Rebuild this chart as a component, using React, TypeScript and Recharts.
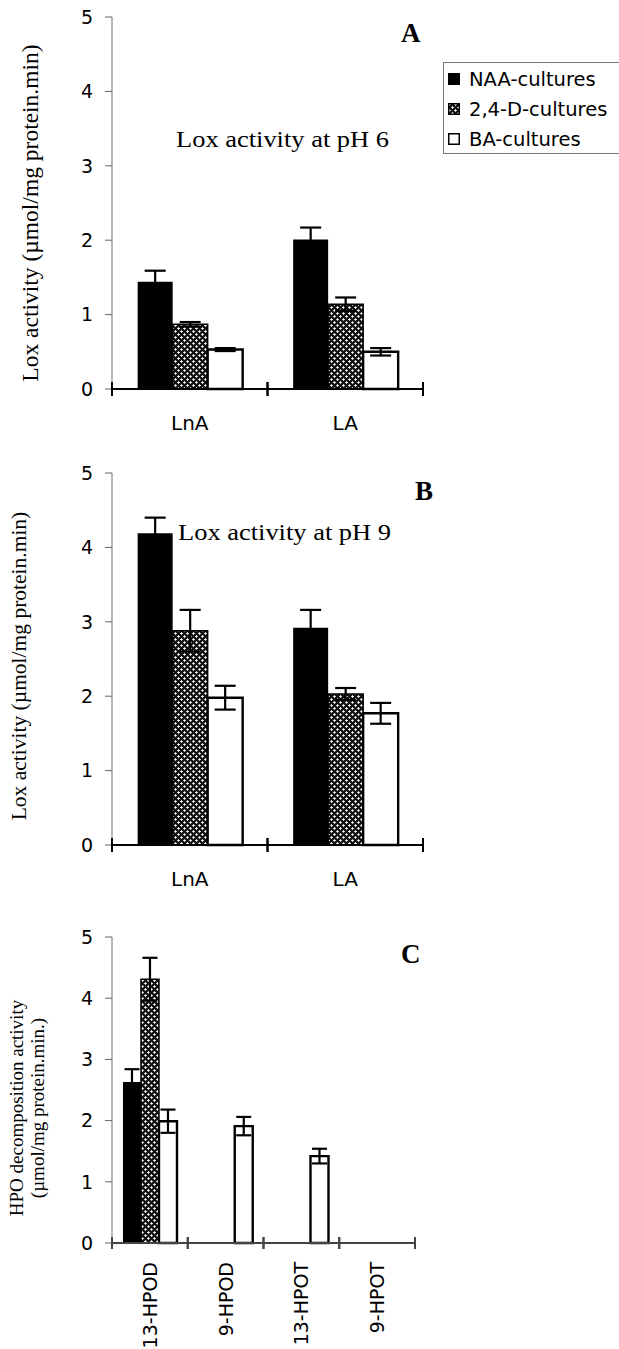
import React from 'react';
import { BarChart, Bar, XAxis, YAxis, ErrorBar } from 'recharts';

// panels A and B: substrates
const loxSubstrates = ['LnA', 'LA'];

// A: pH 6
const naaPh6 = [1.44, 2.01];
const naaPh6Err = [0.15, 0.16];
const d24Ph6 = [0.87, 1.14];
const d24Ph6Err = [0.03, 0.09];
const baPh6 = [0.53, 0.5];
const baPh6Err = [0.02, 0.05];

// B: pH 9
const naaPh9 = [4.19, 2.92];
const naaPh9Err = [0.21, 0.24];
const d24Ph9 = [2.88, 2.03];
const d24Ph9Err = [0.28, 0.08];
const baPh9 = [1.98, 1.77];
const baPh9Err = [0.16, 0.14];

// C: HPO decomposition
const hpoSubstrates = ['13-HPOD', '9-HPOD', '13-HPOT', '9-HPOT'];
const naaHpo = [2.63, null, null, null];
const naaHpoErr = [0.21, null, null, null];
const d24Hpo = [4.31, null, null, null];
const d24HpoErr = [0.35, null, null, null];
const baHpo = [1.99, 1.91, 1.42, null];
const baHpoErr = [0.19, 0.15, 0.12, null];

const yTicks = [0, 1, 2, 3, 4, 5];
const legendLabels = ['NAA-cultures', '2,4-D-cultures', 'BA-cultures'];

const SANS = '"DejaVu Sans", Arial, sans-serif';
const SERIF = '"Liberation Serif", "Times New Roman", serif';

const rows = (
  cats: string[],
  naa: (number | null)[], naaErr: (number | null)[],
  d24: (number | null)[], d24Err: (number | null)[],
  ba: (number | null)[], baErr: (number | null)[]
) =>
  cats.map((name, i) => ({
    name,
    naa: naa[i], naaErr: naaErr[i],
    d24: d24[i], d24Err: d24Err[i],
    ba: ba[i], baErr: baErr[i],
  }));

const dataA = rows(loxSubstrates, naaPh6, naaPh6Err, d24Ph6, d24Ph6Err, baPh6, baPh6Err);
const dataB = rows(loxSubstrates, naaPh9, naaPh9Err, d24Ph9, d24Ph9Err, baPh9, baPh9Err);
const dataC = rows(hpoSubstrates, naaHpo, naaHpoErr, d24Hpo, d24HpoErr, baHpo, baHpoErr);

// category label plus tick marks at the band edges
const GroupTick = (props: any) => {
  const { x, y, payload, width, visibleTicksCount, rotated, tickLen, stroke, labelGap } = props;
  const half = payload && payload.offset ? payload.offset : width / visibleTicksCount / 2;
  const ly = y + labelGap;
  return (
    <g>
      <line x1={x - half} x2={x - half} y1={y - tickLen} y2={y + tickLen} stroke={stroke} strokeWidth={2} />
      <line x1={x + half} x2={x + half} y1={y - tickLen} y2={y + tickLen} stroke={stroke} strokeWidth={2} />
      {rotated ? (
        <text x={x} y={ly} transform={`rotate(-90 ${x} ${ly})`} textAnchor="end" dominantBaseline="central"
          fontFamily={SANS} fontSize={19} fill="#000">{payload.value}</text>
      ) : (
        <text x={x} y={ly} textAnchor="middle" fontFamily={SANS} fontSize={20} fill="#000">{payload.value}</text>
      )}
    </g>
  );
};

type PanelProps = {
  data: any[];
  top: number;
  height: number;
  margin: { top: number; right: number; bottom: number; left: number };
  yWidth: number;
  xHeight: number;
  rotated?: boolean;
  capWidth: number;
  gap: string;
  axisColor: string;
  tickMargin: number;
};

const Panel = ({ data, top, height, margin, yWidth, xHeight, rotated, capWidth, gap, axisColor, tickMargin }: PanelProps) => (
  <div style={{ position: 'absolute', left: 0, top }}>
    <BarChart width={619} height={height} data={data} margin={margin} barCategoryGap={gap} barGap={0}>
      <XAxis
        dataKey="name"
        height={xHeight}
        tickSize={0}
        tickMargin={0}
        tickLine={false}
        axisLine={{ stroke: axisColor, strokeWidth: 2 }}
        interval={0}
        tick={<GroupTick rotated={rotated} tickLen={rotated ? 6 : 7} stroke={axisColor} labelGap={rotated ? 19 : 41} />}
      />
      <YAxis
        width={yWidth}
        domain={[0, 5]}
        ticks={yTicks}
        tickSize={7}
        tickMargin={tickMargin}
        axisLine={{ stroke: '#888', strokeWidth: 1.2 }}
        tickLine={{ stroke: '#666' }}
        tick={{ fill: '#000', fontSize: 19, fontFamily: SANS }}
      />
      <Bar dataKey="naa" fill="#000" isAnimationActive={false}>
        <ErrorBar dataKey="naaErr" width={capWidth} stroke="#000" strokeWidth={2.2} />
      </Bar>
      <Bar dataKey="d24" fill="url(#check)" stroke="#000" strokeWidth={1.5} isAnimationActive={false}>
        <ErrorBar dataKey="d24Err" width={capWidth} stroke="#000" strokeWidth={2.2} />
      </Bar>
      <Bar dataKey="ba" fill="#fff" stroke="#000" strokeWidth={2.4} isAnimationActive={false}>
        <ErrorBar dataKey="baErr" width={capWidth} stroke="#000" strokeWidth={2.2} />
      </Bar>
    </BarChart>
  </div>
);

const abs = (left: number, top: number, extra: React.CSSProperties = {}): React.CSSProperties => ({
  position: 'absolute', left, top, whiteSpace: 'nowrap', color: '#000', ...extra,
});

const VLabel = ({ cx, cy, size, children }: { cx: number; cy: number; size: number; children: React.ReactNode }) => (
  <div style={abs(cx, cy, {
    transform: 'translate(-50%, -50%) rotate(-90deg)', fontFamily: SERIF, fontSize: size, lineHeight: 1.1, textAlign: 'center',
  })}>{children}</div>
);

const Swatch = ({ kind }: { kind: number }) => (
  <svg width={12} height={12} style={{ display: 'block' }}>
    <rect x={0.75} y={0.75} width={10.5} height={10.5}
      fill={kind === 0 ? '#000' : kind === 1 ? 'url(#check)' : '#fff'} stroke="#000" strokeWidth={1.5} />
  </svg>
);

const titleStyle: React.CSSProperties = {
  fontFamily: SERIF, fontSize: 23, lineHeight: 1, transform: 'scaleX(1.15)', transformOrigin: 'left top',
};
const letterStyle: React.CSSProperties = { fontFamily: SERIF, fontWeight: 'bold', fontSize: 27, lineHeight: 1 };

export default function App() {
  return (
    <div style={{ position: 'absolute', left: 0, top: 0, width: 619, height: 1349, overflow: 'hidden', background: '#fff' }}>
      <svg width={0} height={0} style={{ position: 'absolute' }}>
        <defs>
          <pattern id="check" width={6} height={6} patternUnits="userSpaceOnUse">
            <rect width={6} height={6} fill="#111" />
            <path d="M1.5 0.2 V2.8 M0.2 1.5 H2.8 M4.5 3.2 V5.8 M3.2 4.5 H5.8" stroke="#fff" strokeWidth={1.1} />
          </pattern>
        </defs>
      </svg>

      <Panel data={dataA} top={0} height={440} margin={{ top: 17, right: 196, bottom: 0, left: 0 }}
        yWidth={112} xHeight={51} capWidth={10.5} gap="16.5%" axisColor="#000" tickMargin={12} />
      <Panel data={dataB} top={440} height={480} margin={{ top: 33, right: 196, bottom: 0, left: 0 }}
        yWidth={112} xHeight={75} capWidth={10.5} gap="16.5%" axisColor="#000" tickMargin={12} />
      <Panel data={dataC} top={880} height={469} margin={{ top: 57, right: 204, bottom: 0, left: 0 }}
        yWidth={112} xHeight={106} rotated capWidth={7.5} gap="14.5%" axisColor="#444" tickMargin={12} />

      {/* panel letters */}
      <div style={abs(401, 20, letterStyle)}>A</div>
      <div style={abs(415, 478, letterStyle)}>B</div>
      <div style={abs(401, 941, letterStyle)}>C</div>

      {/* in-plot titles */}
      <div style={abs(176, 128, titleStyle)}>Lox activity at pH 6</div>
      <div style={abs(178, 521, titleStyle)}>Lox activity at pH 9</div>

      {/* y axis titles */}
      <VLabel cx={31} cy={213} size={23.5}>Lox activity (µmol/mg protein.min)</VLabel>
      <VLabel cx={20} cy={666} size={21.5}>Lox activity (µmol/mg protein.min)</VLabel>
      <VLabel cx={28} cy={1108} size={19}>
        HPO decomposition activity<br />(µmol/mg protein.min.)
      </VLabel>

      {/* legend */}
      <div style={abs(443, 62, { width: 220, height: 90, border: '1px solid #777', fontFamily: SANS, fontSize: 19.5 })}>
        {legendLabels.map((label, i) => (
          <div key={label} style={{ position: 'absolute', left: 4, top: 5 + i * 30, display: 'flex', alignItems: 'center', height: 22 }}>
            <Swatch kind={i} />
            <span style={{ marginLeft: 9 }}>{label}</span>
          </div>
        ))}
      </div>
    </div>
  );
}
